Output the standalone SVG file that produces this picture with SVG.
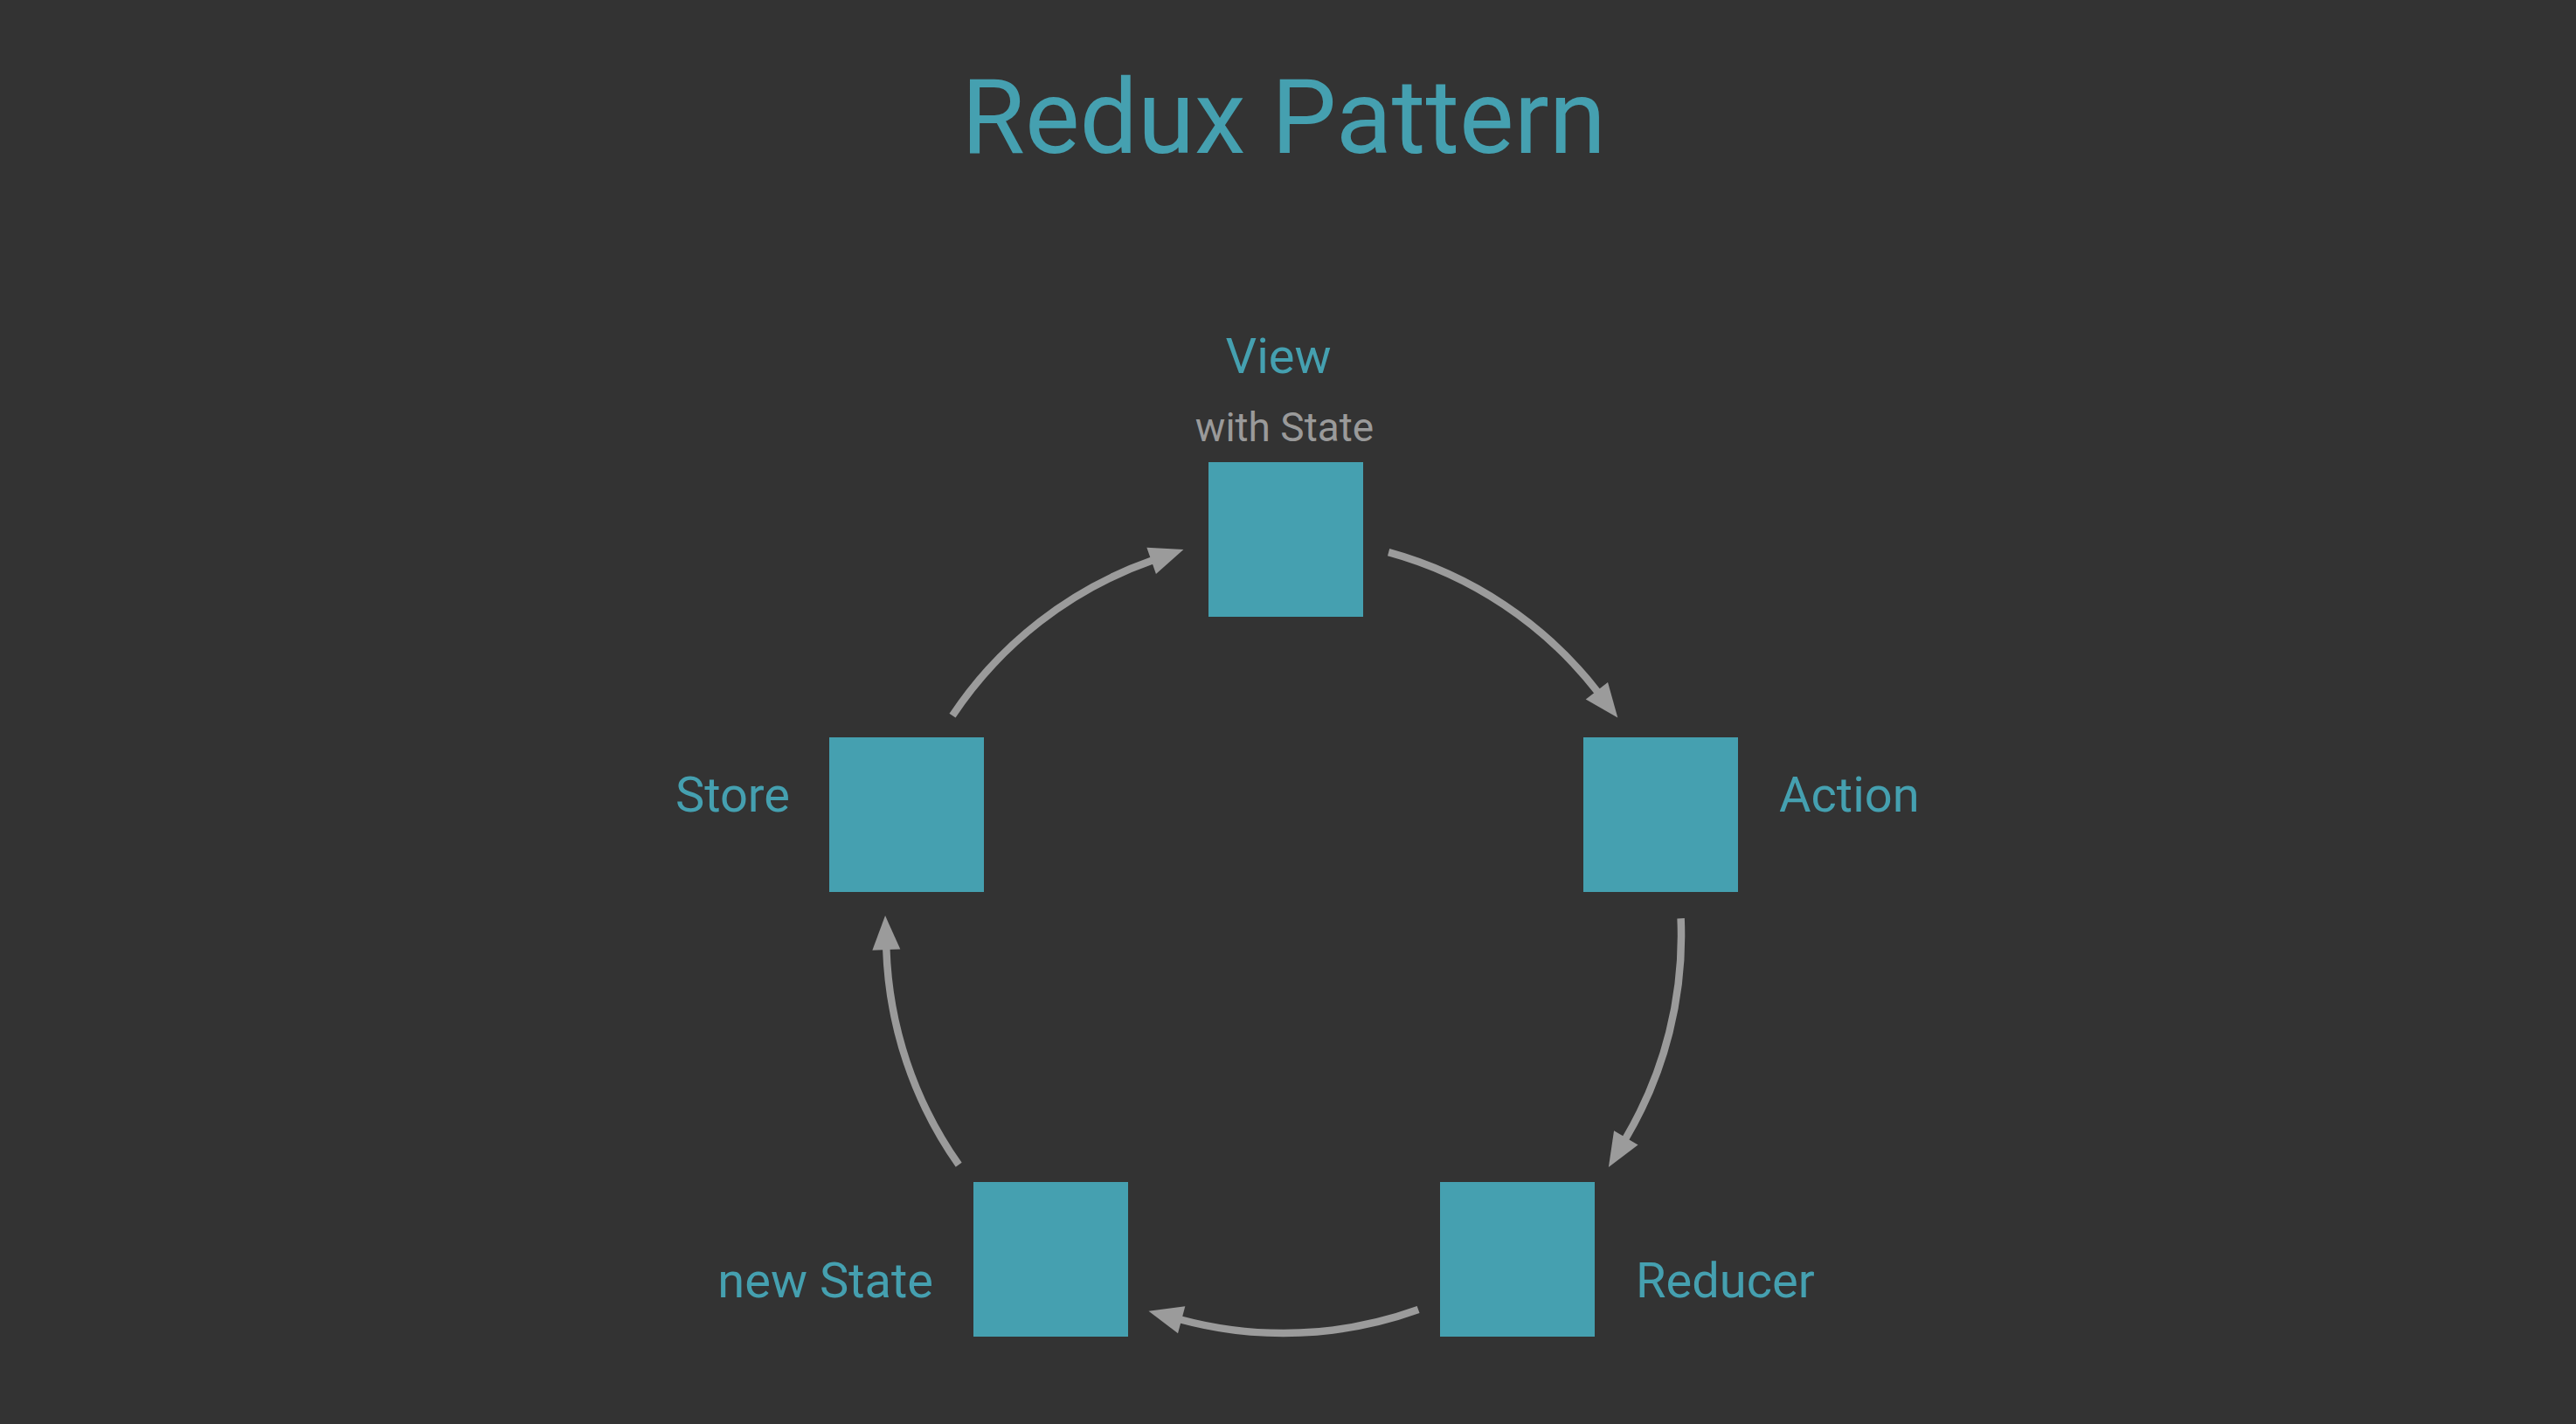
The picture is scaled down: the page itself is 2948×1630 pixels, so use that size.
<svg xmlns="http://www.w3.org/2000/svg" width="2948" height="1630" viewBox="0 0 2948 1630">
  <style>
    .box { fill: #45a0b0; }
    .lbl { font-family: Roboto, "Liberation Sans", sans-serif; font-size: 56px; fill: #45a0b0; }
    .sub { font-family: Roboto, "Liberation Sans", sans-serif; font-size: 46px; fill: #9a9a9a; }
    .title { font-family: Roboto, "Liberation Sans", sans-serif; font-size: 118px; fill: #45a0b0; }
    .arc { fill: none; stroke: #9b9b9b; stroke-width: 8.5; }
  </style>
  <defs>
    <marker id="head" markerUnits="userSpaceOnUse" markerWidth="39" markerHeight="32" viewBox="0 0 39 32" refX="1" refY="16" orient="auto" overflow="visible">
      <path d="M0,0 L39,16 L0,32 Z" fill="#9b9b9b"/>
    </marker>
  </defs>
  <rect x="0" y="0" width="2948" height="1630" fill="#333333"/>
  <text class="title" x="1469" y="175" text-anchor="middle">Redux Pattern</text>

  <g id="connectors">
    <path class="arc" marker-end="url(#head)" d="M1589.1,632.1 A455,455 0 0 1 1828.0,791.5"/>
    <path class="arc" marker-end="url(#head)" d="M1923.6,1051.2 A455,455 0 0 1 1860.3,1303.3"/>
    <path class="arc" marker-end="url(#head)" d="M1623.1,1499.1 A455,455 0 0 1 1351.2,1510.5"/>
    <path class="arc" marker-end="url(#head)" d="M1097.2,1333.3 A455,455 0 0 1 1014.3,1086.1"/>
    <path class="arc" marker-end="url(#head)" d="M1090.0,819.2 A455,455 0 0 1 1318.6,641.6"/>
  </g>

  <g id="view">
    <rect class="box" x="1383" y="529" width="177" height="177"/>
    <text class="lbl" x="1463" y="427" text-anchor="middle">View</text>
    <text class="sub" x="1470" y="505" text-anchor="middle">with State</text>
  </g>
  <g id="action">
    <rect class="box" x="1812" y="844" width="177" height="177"/>
    <text class="lbl" x="2036" y="929">Action</text>
  </g>
  <g id="reducer">
    <rect class="box" x="1648" y="1353" width="177" height="177"/>
    <text class="lbl" x="1872" y="1485">Reducer</text>
  </g>
  <g id="newstate">
    <rect class="box" x="1114" y="1353" width="177" height="177"/>
    <text class="lbl" x="1068" y="1485" text-anchor="end">new State</text>
  </g>
  <g id="store">
    <rect class="box" x="949" y="844" width="177" height="177"/>
    <text class="lbl" x="904" y="929" text-anchor="end">Store</text>
  </g>
</svg>
